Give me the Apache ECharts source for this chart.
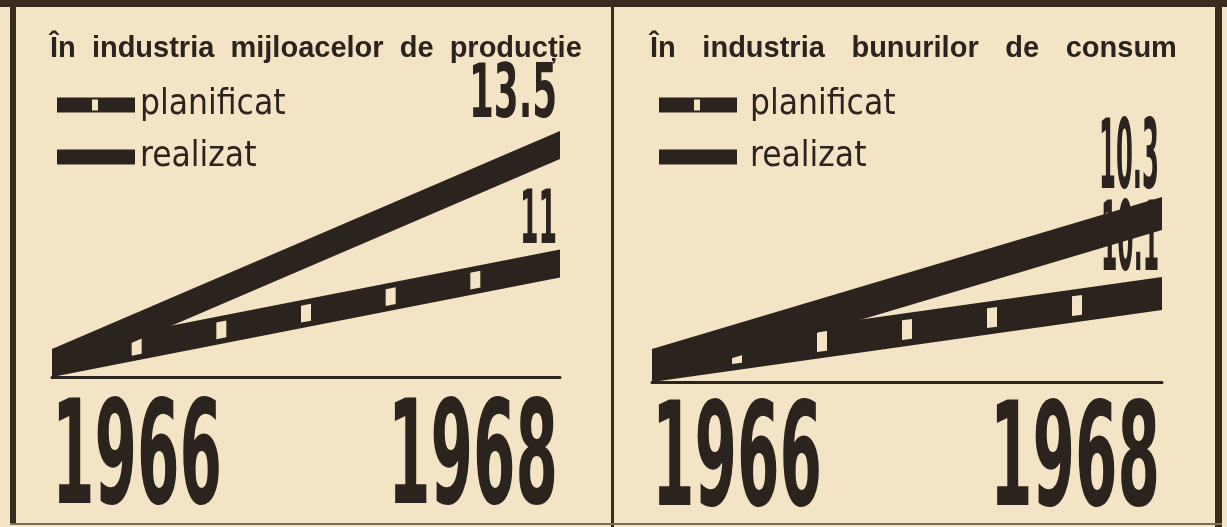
<!DOCTYPE html>
<html>
<head>
<meta charset="utf-8">
<script src="https://cdn.jsdelivr.net/npm/echarts@6/dist/echarts.min.js"></script>
<style>
html, body { margin: 0; padding: 0; background: #f3e4c5; }
#c { width: 1227px; height: 527px; }
</style>
</head>
<body>
<div id="c"></div>
<script>
// ---------------- data ----------------
const years = ['1966', '1968'];
const panelTitles = ['În  industria  mijloacelor  de  producție', 'În   \u200Aindustria   \u200Abunurilor   \u200Ade   \u200Aconsum'];
const seriesNames = ['planificat', 'realizat'];
// both bands leave one shared point in 1966
const start1966 = [8.9, 9.92];
const planificat1968 = [11, 10.1];
const realizat1968 = [13.5, 10.3];

// ---------------- style ----------------
const INK = '#2b231d';
const PAPER = '#f3e4c5';
const FRAME = '#3a2b1f';
const NUM_FAMILY = '"DejaVu Sans Condensed", "Liberation Sans Narrow", "Liberation Sans", sans-serif';
const TITLE_FAMILY = '"Liberation Sans", "DejaVu Sans", sans-serif';
const GRID = [
  { left: 52, right: 1227 - 560, top: 140, bottom: 527 - 377 },
  { left: 652, right: 1227 - 1162, top: 170, bottom: 527 - 382 }
];
const Y_MAX = [13.9, 10.45];
const BAND_T = [28, 33];
const MARK_DIV = 6;
const LABEL_SIZE = [74, 96];
const LABEL_W = [[37, 88], [58, 60]];   // [planificat, realizat] label widths per panel
const LABEL_GAP = [[3, 11], [3, 5]];
const YEAR_SIZE = 144;
const YEAR_W = 170;
const YEAR_DY = [89, 86];

const measureCtx = document.createElement('canvas').getContext('2d');
function textWidth(text, font) { measureCtx.font = font; return measureCtx.measureText(text).width; }

function bandRender(panel, sIdx) {
  return function (params, api) {
    if (params.dataIndex !== 1) return null;
    const a = api.coord([api.value(0, 0), api.value(1, 0)]);
    const b = api.coord([api.value(0, 1), api.value(1, 1)]);
    const T = BAND_T[panel];
    const color = api.visual('color');
    const slope = (b[1] - a[1]) / (b[0] - a[0]);
    const children = [];
    const label = String(api.value(1, 1));
    const size = LABEL_SIZE[panel];
    const font = 'bold ' + size + 'px ' + NUM_FAMILY;
    const s = LABEL_W[panel][sIdx] / textWidth(label, font);
    children.push({
      type: 'text',
      x: b[0] - 3,
      y: b[1] - T - LABEL_GAP[panel][sIdx] + size * 0.2,
      scaleX: s,
      style: { text: label, font: font, fill: INK, align: 'right', verticalAlign: 'bottom' }
    });
    children.push({
      type: 'polygon',
      shape: { points: [[a[0], a[1]], [b[0], b[1]], [b[0], b[1] - T], [a[0], a[1] - T]] },
      style: { fill: color }
    });
    if (sIdx === 0) {
      const hw = 5, hh = T * 0.3;
      const yc = function (x) { return a[1] + (x - a[0]) * slope - T / 2; };
      for (let k = 1; k < MARK_DIV; k++) {
        const cx = a[0] + (b[0] - a[0]) * k / MARK_DIV;
        children.push({
          type: 'polygon',
          shape: { points: [[cx - hw, yc(cx - hw) - hh], [cx + hw, yc(cx + hw) - hh], [cx + hw, yc(cx + hw) + hh], [cx - hw, yc(cx - hw) + hh]] },
          style: { fill: PAPER }
        });
      }
    }
    return { type: 'group', children: children };
  };
}

function yearRender(panel) {
  return function (params, api) {
    const i = params.dataIndex;
    const p = api.coord([api.value(0), api.value(1)]);
    const text = years[i];
    const font = 'bold ' + YEAR_SIZE + 'px ' + NUM_FAMILY;
    const s = YEAR_W / textWidth(text, font);
    const last = i === years.length - 1;
    return {
      type: 'text',
      x: p[0] + (last ? -2 : 0),
      y: p[1] + YEAR_DY[panel],
      scaleX: s,
      style: { text: text, font: font, fill: INK, align: last ? 'right' : 'left', verticalAlign: 'middle' }
    };
  };
}

const planIcon = 'path://M0,0H78V15H0Z M35,2V13H41V2Z';
const realIcon = 'path://M0,0H78V15H0Z';

const series = [];
[0, 1].forEach(function (p) {
  series.push({
    type: 'custom', name: seriesNames[0], xAxisIndex: p, yAxisIndex: p,
    itemStyle: { color: INK },
    data: [[0, start1966[p]], [1, planificat1968[p]]],
    renderItem: bandRender(p, 0)
  });
  series.push({
    type: 'custom', name: seriesNames[1], xAxisIndex: p, yAxisIndex: p,
    itemStyle: { color: INK },
    data: [[0, start1966[p]], [1, realizat1968[p]]],
    renderItem: bandRender(p, 1)
  });
  series.push({
    type: 'custom', name: 'ani', xAxisIndex: p, yAxisIndex: p, silent: true,
    data: years.map(function (y, i) { return [i, start1966[p]]; }),
    renderItem: yearRender(p)
  });
});

function legendFor(left, pad) {
  return {
    left: left, top: 78, orient: 'vertical',
    itemWidth: 78, itemHeight: 15, itemGap: 8,
    selectedMode: false,
    data: [{ name: seriesNames[0], icon: planIcon }, { name: seriesNames[1], icon: realIcon }],
    textStyle: { fontFamily: NUM_FAMILY, fontSize: 35, color: INK, lineHeight: 44, padding: [0, 0, 0, pad] }
  };
}

const option = {
  backgroundColor: PAPER,
  animation: false,
  title: [
    { text: panelTitles[0], left: 50, top: 34, padding: 0,
      textStyle: { fontFamily: TITLE_FAMILY, fontWeight: 'bold', fontSize: 29, color: INK } },
    { text: panelTitles[1], left: 650, top: 34, padding: 0,
      textStyle: { fontFamily: TITLE_FAMILY, fontWeight: 'bold', fontSize: 29, color: INK } }
  ],
  legend: [legendFor(52, 0), legendFor(654, 8)],
  grid: GRID,
  xAxis: [0, 1].map(function (p) {
    return { type: 'category', gridIndex: p, data: years, boundaryGap: false,
      axisLine: { lineStyle: { color: INK, width: 3 } }, axisTick: { show: false },
      axisLabel: { show: false }, splitLine: { show: false } };
  }),
  yAxis: [0, 1].map(function (p) {
    return { type: 'value', gridIndex: p, min: start1966[p], max: Y_MAX[p], show: false, splitLine: { show: false } };
  }),
  series: series,
  graphic: [
    { type: 'rect', shape: { x: 0, y: 0, width: 1227, height: 7 }, style: { fill: FRAME }, z: 100 },
    { type: 'rect', shape: { x: 10, y: 0, width: 6, height: 524 }, style: { fill: FRAME }, z: 100 },
    { type: 'rect', shape: { x: 611, y: 0, width: 3, height: 527 }, style: { fill: FRAME }, z: 100 },
    { type: 'rect', shape: { x: 1215, y: 0, width: 7, height: 527 }, style: { fill: FRAME }, z: 100 },
    { type: 'rect', shape: { x: 10, y: 523, width: 1212, height: 2 }, style: { fill: '#7a6a58' }, z: 100 }
  ]
};

const chart = echarts.init(document.getElementById('c'));
chart.setOption(option);
</script>
</body>
</html>
